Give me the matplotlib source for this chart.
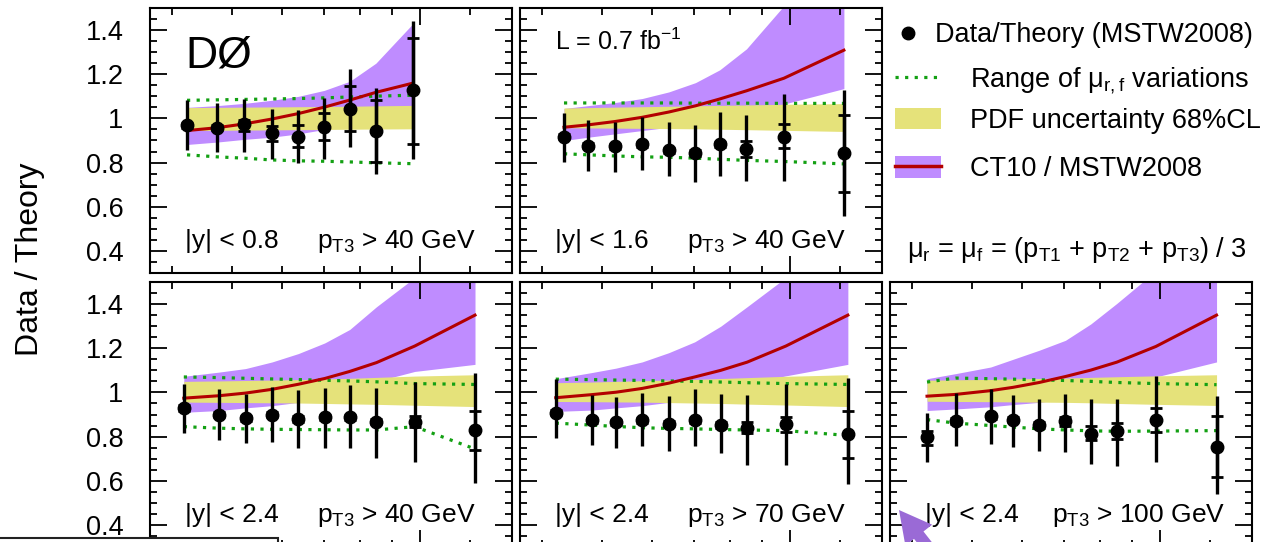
import matplotlib
matplotlib.use("Agg")
import matplotlib.pyplot as plt
from matplotlib.lines import Line2D
from matplotlib.patches import Patch, Rectangle, FancyArrow
from matplotlib.legend_handler import HandlerTuple
from matplotlib.ticker import FixedLocator, NullFormatter, MultipleLocator, FixedFormatter

plt.rcParams['font.family'] = 'Liberation Sans'
plt.rcParams['mathtext.fontset'] = 'custom'
plt.rcParams['mathtext.rm'] = 'Liberation Sans'
plt.rcParams['mathtext.it'] = 'Liberation Sans:italic'
plt.rcParams['mathtext.default'] = 'regular'

# ---- data (x = M3jet in TeV, log axis) ----
# panel 1: |y| < 0.8, pT3 > 40 GeV
x1 = [0.423, 0.473, 0.522, 0.578, 0.638, 0.702, 0.771, 0.849, 0.974]
ratio1 = [0.968, 0.958, 0.973, 0.933, 0.918, 0.961, 1.044, 0.941, 1.127]
tot_hi1 = [1.082, 1.071, 1.086, 1.044, 1.039, 1.094, 1.226, 1.139, 1.442]
tot_lo1 = [0.858, 0.847, 0.847, 0.817, 0.797, 0.817, 0.870, 0.749, 0.817]
stat_hi1 = [0.980, 0.970, 0.995, 0.964, 0.968, 1.024, 1.145, 1.085, 1.365]
stat_lo1 = [0.956, 0.946, 0.941, 0.897, 0.870, 0.903, 0.945, 0.801, 0.885]
ct10_1 = [0.945, 0.958, 0.975, 0.997, 1.022, 1.051, 1.083, 1.118, 1.160]
ct10_hi1 = [1.050, 1.058, 1.068, 1.082, 1.100, 1.127, 1.168, 1.250, 1.430]
ct10_lo1 = [0.882, 0.893, 0.905, 0.915, 0.930, 0.950, 0.980, 1.010, 1.050]
pdf_hi1 = [1.049, 1.050, 1.051, 1.052, 1.053, 1.054, 1.055, 1.057, 1.059]
pdf_lo1 = [0.945, 0.946, 0.947, 0.948, 0.949, 0.950, 0.951, 0.952, 0.953]
mu_hi1 = [1.082, 1.084, 1.086, 1.088, 1.090, 1.093, 1.097, 1.101, 1.105]
mu_lo1 = [0.835, 0.826, 0.820, 0.812, 0.808, 0.806, 0.803, 0.799, 0.795]

# panel 2: |y| < 1.6, pT3 > 40 GeV
x2 = [0.434, 0.475, 0.524, 0.579, 0.639, 0.705, 0.771, 0.851, 0.977, 1.219]
ratio2 = [0.918, 0.877, 0.874, 0.882, 0.855, 0.844, 0.882, 0.862, 0.918, 0.844]
tot_hi2 = [1.024, 0.995, 0.986, 1.006, 0.986, 0.971, 1.029, 1.014, 1.112, 1.130]
tot_lo2 = [0.801, 0.764, 0.756, 0.767, 0.738, 0.714, 0.738, 0.718, 0.718, 0.559]
stat_hi2 = [0.930, 0.889, 0.886, 0.894, 0.867, 0.856, 0.894, 0.900, 0.976, 1.017]
stat_lo2 = [0.906, 0.865, 0.862, 0.870, 0.843, 0.832, 0.870, 0.827, 0.865, 0.668]
ct10_2 = [0.960, 0.971, 0.986, 1.005, 1.029, 1.057, 1.088, 1.125, 1.182, 1.309]
ct10_hi2 = [1.045, 1.058, 1.072, 1.090, 1.120, 1.162, 1.220, 1.315, 1.510, 1.850]
ct10_lo2 = [0.900, 0.915, 0.930, 0.945, 0.960, 0.980, 1.000, 1.030, 1.065, 1.135]
pdf_hi2 = [1.047, 1.049, 1.051, 1.053, 1.055, 1.057, 1.059, 1.061, 1.064, 1.067]
pdf_lo2 = [0.958, 0.957, 0.956, 0.955, 0.954, 0.953, 0.951, 0.949, 0.946, 0.941]
mu_hi2 = [1.070, 1.070, 1.070, 1.070, 1.070, 1.069, 1.069, 1.069, 1.068, 1.068]
mu_lo2 = [0.840, 0.835, 0.830, 0.826, 0.824, 0.820, 0.815, 0.810, 0.805, 0.794]

# panel 3: |y| < 2.4, pT3 > 40 GeV
x3 = [0.418, 0.476, 0.525, 0.579, 0.638, 0.703, 0.771, 0.851, 0.980, 1.224]
ratio3 = [0.929, 0.899, 0.883, 0.899, 0.880, 0.888, 0.888, 0.868, 0.865, 0.830]
tot_hi3 = [1.040, 1.017, 0.994, 1.024, 1.009, 1.021, 1.035, 1.021, 1.047, 1.090]
tot_lo3 = [0.815, 0.785, 0.770, 0.777, 0.747, 0.747, 0.747, 0.703, 0.683, 0.588]
stat_hi3 = [0.941, 0.911, 0.895, 0.911, 0.892, 0.900, 0.900, 0.880, 0.892, 0.915]
stat_lo3 = [0.917, 0.887, 0.871, 0.887, 0.868, 0.876, 0.876, 0.856, 0.842, 0.741]
ct10_3 = [0.974, 0.985, 0.997, 1.014, 1.037, 1.063, 1.095, 1.135, 1.210, 1.350]
ct10_hi3 = [1.073, 1.092, 1.108, 1.138, 1.176, 1.224, 1.285, 1.388, 1.520, 1.850]
ct10_lo3 = [0.910, 0.918, 0.930, 0.940, 0.955, 0.970, 0.990, 1.050, 1.095, 1.127]
pdf_hi3 = [1.050, 1.052, 1.054, 1.056, 1.058, 1.061, 1.064, 1.068, 1.074, 1.080]
pdf_lo3 = [0.956, 0.955, 0.954, 0.953, 0.952, 0.950, 0.948, 0.946, 0.942, 0.936]
mu_hi3 = [1.070, 1.067, 1.064, 1.061, 1.058, 1.055, 1.052, 1.048, 1.040, 1.036]
mu_lo3 = [0.845, 0.838, 0.835, 0.833, 0.832, 0.831, 0.830, 0.830, 0.845, 0.744]

# panel 4: |y| < 2.4, pT3 > 70 GeV
x4 = [0.421, 0.481, 0.526, 0.579, 0.639, 0.703, 0.774, 0.853, 0.984, 1.237]
ratio4 = [0.908, 0.873, 0.865, 0.873, 0.858, 0.873, 0.853, 0.838, 0.858, 0.812]
tot_hi4 = [1.062, 0.990, 0.979, 0.997, 0.986, 1.014, 0.993, 0.990, 1.040, 1.067]
tot_lo4 = [0.794, 0.764, 0.747, 0.756, 0.736, 0.756, 0.724, 0.673, 0.673, 0.585]
stat_hi4 = [0.920, 0.885, 0.877, 0.885, 0.870, 0.885, 0.865, 0.865, 0.888, 0.918]
stat_lo4 = [0.896, 0.861, 0.853, 0.861, 0.846, 0.861, 0.841, 0.815, 0.823, 0.703]
ct10_4 = [0.976, 0.990, 1.001, 1.018, 1.042, 1.070, 1.100, 1.137, 1.210, 1.350]
ct10_hi4 = [1.062, 1.090, 1.110, 1.138, 1.180, 1.229, 1.300, 1.388, 1.520, 1.850]
ct10_lo4 = [0.914, 0.920, 0.930, 0.940, 0.955, 0.970, 0.990, 1.040, 1.075, 1.127]
pdf_hi4 = [1.044, 1.047, 1.050, 1.053, 1.056, 1.059, 1.063, 1.067, 1.073, 1.080]
pdf_lo4 = [0.959, 0.958, 0.957, 0.956, 0.954, 0.952, 0.950, 0.947, 0.943, 0.936]
mu_hi4 = [1.060, 1.058, 1.056, 1.054, 1.052, 1.050, 1.047, 1.044, 1.040, 1.036]
mu_lo4 = [0.861, 0.852, 0.846, 0.840, 0.837, 0.835, 0.832, 0.830, 0.827, 0.805]

# panel 5: |y| < 2.4, pT3 > 100 GeV
x5 = [0.423, 0.470, 0.535, 0.581, 0.640, 0.705, 0.774, 0.852, 0.984, 1.231]
ratio5 = [0.797, 0.870, 0.892, 0.876, 0.853, 0.870, 0.812, 0.824, 0.873, 0.755]
tot_hi5 = [0.906, 0.997, 1.014, 0.990, 0.971, 0.993, 0.971, 0.968, 1.073, 0.986]
tot_lo5 = [0.683, 0.759, 0.767, 0.751, 0.736, 0.732, 0.676, 0.668, 0.683, 0.540]
stat_hi5 = [0.824, 0.882, 0.904, 0.888, 0.865, 0.888, 0.847, 0.862, 0.929, 0.895]
stat_lo5 = [0.764, 0.858, 0.880, 0.864, 0.841, 0.850, 0.785, 0.789, 0.823, 0.618]
ct10_5 = [0.983, 0.991, 1.008, 1.023, 1.045, 1.072, 1.101, 1.137, 1.208, 1.350]
ct10_hi5 = [1.062, 1.085, 1.115, 1.150, 1.191, 1.236, 1.310, 1.403, 1.550, 1.850]
ct10_lo5 = [0.918, 0.925, 0.935, 0.945, 0.955, 0.970, 0.990, 1.020, 1.070, 1.138]
pdf_hi5 = [1.055, 1.057, 1.059, 1.061, 1.063, 1.065, 1.068, 1.071, 1.075, 1.080]
pdf_lo5 = [0.960, 0.959, 0.958, 0.957, 0.956, 0.955, 0.953, 0.950, 0.946, 0.941]
mu_hi5 = [1.047, 1.065, 1.062, 1.060, 1.057, 1.054, 1.050, 1.045, 1.040, 1.035]
mu_lo5 = [0.877, 0.861, 0.850, 0.843, 0.835, 0.830, 0.826, 0.824, 0.825, 0.827]

rap_labels = ["|y| < 0.8", "|y| < 1.6", "|y| < 2.4", "|y| < 2.4", "|y| < 2.4"]
pt_labels = ["p$_{T3}$ > 40 GeV", "p$_{T3}$ > 40 GeV", "p$_{T3}$ > 40 GeV",
             "p$_{T3}$ > 70 GeV", "p$_{T3}$ > 100 GeV"]
ytick_vals = [0.4, 0.6, 0.8, 1.0, 1.2, 1.4]
ytick_text = ["0.4", "0.6", "0.8", "1", "1.2", "1.4"]

purple = "#bf8cff"
yellow = "#e5e27a"
red = "#b30000"
green = "#13a013"

W, H = 1265, 542
fig = plt.figure(figsize=(W / 100, H / 100), dpi=100)


def add_panel(left, top, w=362, h=265):
    return fig.add_axes([left / W, 1 - (top + h) / H, w / W, h / H])


def draw(ax, x, r, tlo, thi, slo, shi, ct, clo, chi, plo, phi, mlo, mhi, show_y):
    ax.fill_between(x, clo, chi, color=purple, lw=0, zorder=1)
    ax.fill_between(x, plo, phi, color=yellow, lw=0, zorder=2)
    ax.plot(x, mlo, ls=(0, (1, 2)), color=green, lw=2.3, zorder=3)
    ax.plot(x, mhi, ls=(0, (1, 2)), color=green, lw=2.3, zorder=3)
    ax.plot(x, ct, color=red, lw=2.2, zorder=4)
    ax.errorbar(x, r, yerr=[[a - b for a, b in zip(r, tlo)], [b - a for a, b in zip(r, thi)]],
                fmt='o', color='k', ms=9, elinewidth=2.4, capsize=0, zorder=6)
    ax.errorbar(x, r, yerr=[[a - b for a, b in zip(r, slo)], [b - a for a, b in zip(r, shi)]],
                fmt='none', ecolor='k', elinewidth=2.4, capsize=4.5, capthick=2.0, zorder=6)

    ax.set_xscale('log')
    ax.set_xlim(0.369, 1.403)
    ax.set_ylim(0.3, 1.5)
    ax.xaxis.set_major_locator(FixedLocator([1.0]))
    ax.xaxis.set_minor_locator(FixedLocator([0.4, 0.5, 0.6, 0.7, 0.8, 0.9, 1.2]))
    ax.xaxis.set_major_formatter(NullFormatter())
    ax.xaxis.set_minor_formatter(NullFormatter())
    ax.yaxis.set_major_locator(FixedLocator(ytick_vals))
    ax.yaxis.set_minor_locator(MultipleLocator(0.05))
    if show_y:
        ax.yaxis.set_major_formatter(FixedFormatter(ytick_text))
    else:
        ax.yaxis.set_major_formatter(NullFormatter())
    ax.tick_params(which='both', direction='in', top=True, right=True, width=1.3,
                   labelbottom=False, labelsize=19.5, pad=19)
    ax.tick_params(which='major', length=12)
    ax.tick_params(which='minor', length=5)
    for s in ax.spines.values():
        s.set_linewidth(1.5)


panels = [
    (150, 8, x1, ratio1, tot_lo1, tot_hi1, stat_lo1, stat_hi1, ct10_1, ct10_lo1, ct10_hi1, pdf_lo1, pdf_hi1, mu_lo1, mu_hi1, True),
    (520, 8, x2, ratio2, tot_lo2, tot_hi2, stat_lo2, stat_hi2, ct10_2, ct10_lo2, ct10_hi2, pdf_lo2, pdf_hi2, mu_lo2, mu_hi2, False),
    (150, 282, x3, ratio3, tot_lo3, tot_hi3, stat_lo3, stat_hi3, ct10_3, ct10_lo3, ct10_hi3, pdf_lo3, pdf_hi3, mu_lo3, mu_hi3, True),
    (520, 282, x4, ratio4, tot_lo4, tot_hi4, stat_lo4, stat_hi4, ct10_4, ct10_lo4, ct10_hi4, pdf_lo4, pdf_hi4, mu_lo4, mu_hi4, False),
    (890, 282, x5, ratio5, tot_lo5, tot_hi5, stat_lo5, stat_hi5, ct10_5, ct10_lo5, ct10_hi5, pdf_lo5, pdf_hi5, mu_lo5, mu_hi5, False),
]

axes = []
for i, p in enumerate(panels):
    ax = add_panel(p[0], p[1])
    draw(ax, *p[2:])
    ax.text(0.096, 0.094, rap_labels[i], transform=ax.transAxes, fontsize=19, va='baseline')
    ax.text(0.447 if i == 4 else 0.462, 0.094, pt_labels[i], transform=ax.transAxes,
            fontsize=19, va='baseline')
    axes.append(ax)

axes[0].text(0.097, 0.777, "DØ", transform=axes[0].transAxes, fontsize=32, va='baseline')
axes[1].text(0.097, 0.842, "L = 0.7 fb$^{-1}$", transform=axes[1].transAxes, fontsize=18, va='baseline')

fig.text(30 / W, 1 - 259 / H, "Data / Theory", rotation=90, ha='center', va='center', fontsize=23)

# legends
lfs = 19.5
leg1 = fig.legend(handles=[Line2D([], [], ls='none', marker='o', color='k', ms=9)],
                  labels=["Data/Theory (MSTW2008)"], loc='upper left',
                  bbox_to_anchor=(895 / W, 1 - 22 / H), frameon=False, fontsize=lfs,
                  handlelength=0.98, handletextpad=0.5, borderpad=0, borderaxespad=0)
leg2 = fig.legend(handles=[Line2D([], [], ls=(0, (1, 2)), color=green, lw=2.3),
                           Patch(facecolor=yellow, lw=0)],
                  labels=["Range of μ$_{r,f}$ variations", "PDF uncertainty 68%CL"],
                  loc='upper left', bbox_to_anchor=(895 / W, 1 - 65 / H), frameon=False,
                  fontsize=lfs, handlelength=1.7, handleheight=0.8, handletextpad=1.07,
                  labelspacing=0.45, borderpad=0, borderaxespad=0)
leg3 = fig.legend(handles=[(Patch(facecolor=purple, lw=0), Line2D([], [], color=red, lw=2.5))],
                  labels=["CT10 / MSTW2008"], handler_map={tuple: HandlerTuple(ndivide=1)},
                  loc='upper left', bbox_to_anchor=(895 / W, 1 - 156 / H), frameon=False,
                  fontsize=lfs, handlelength=1.7, handleheight=0.85, handletextpad=1.07,
                  borderpad=0, borderaxespad=0)

fig.text(907 / W, 1 - 257 / H, "μ$_{r}$ = μ$_{f}$ = (p$_{T1}$ + p$_{T2}$ + p$_{T3}$) / 3",
         fontsize=19.5, va='baseline')

# screenshot overlays: white box bottom-left and purple pointer arrow
over = fig.add_axes([0, 0, 1, 1], zorder=10)
over.set_xlim(0, W)
over.set_ylim(H, 0)
over.axis('off')
over.add_patch(Rectangle((-5, 538), 283, 30, facecolor='white', edgecolor='#222222', lw=1.5))
over.add_patch(FancyArrow(950, 575, -51, -65, width=12, head_width=34, head_length=32,
                          length_includes_head=True, color='#9a6ad6', lw=0))

fig.savefig("out.png", dpi=100)
